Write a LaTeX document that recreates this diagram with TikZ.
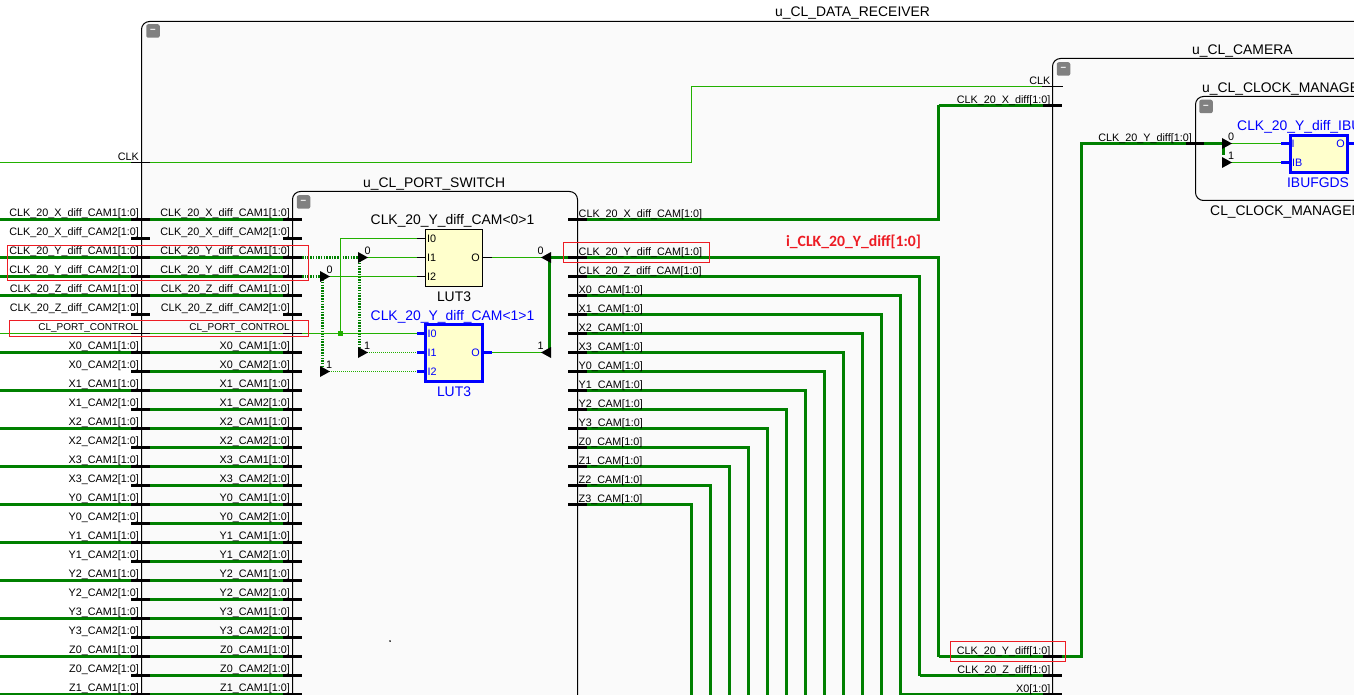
\documentclass[tikz,border=0pt]{standalone}
\usepackage{fontspec}
\setmainfont{Liberation Sans}
\newfontfamily\notefont{Carlito}
\usetikzlibrary{positioning}
\definecolor{busgreen}{HTML}{008000}
\definecolor{siggreen}{HTML}{22B000}
\definecolor{blockgrey}{HTML}{FAFAFA}
\definecolor{lutyellow}{HTML}{FFFFCC}
\definecolor{selblue}{HTML}{0000FF}
\definecolor{markred}{HTML}{ED1C24}
\tikzset{
	x=1pt,y=-1pt,
	blockbox/.style={draw=black,line width=1pt,fill=blockgrey,rounded corners=8pt},
	bus/.style={draw=busgreen,line width=3pt},
	sig/.style={draw=siggreen,line width=1pt},
	busdot/.style={draw=busgreen,line width=3pt,dash pattern=on 1.5pt off 1.2pt},
	sigdot/.style={draw=siggreen,line width=1pt,dash pattern=on 1pt off 1pt},
	stub/.style={draw=black,line width=3pt},
	thinstub/.style={draw=black,line width=1pt},
	selstub/.style={draw=selblue,line width=3pt},
	markbox/.style={draw=markred,line width=1pt},
	portlbl/.style={inner sep=0pt,anchor=base east,font=\fontsize{10.8}{12}\selectfont},
	portlblr/.style={inner sep=0pt,anchor=base west,font=\fontsize{10.8}{12}\selectfont},
	pinlbl/.style={inner sep=0pt,font=\fontsize{10.8}{12}\selectfont},
	titlelbl/.style={inner sep=0pt,anchor=base west,font=\fontsize{13.9}{16}\selectfont},
	lutlbl/.style={inner sep=0pt,font=\fontsize{13.9}{16}\selectfont},
	lutbox/.style={draw=black,line width=1pt,fill=lutyellow,minimum width=57pt,minimum height=57pt,inner sep=0pt},
	lutsel/.style={draw=selblue,line width=3pt,fill=lutyellow,minimum width=57pt,minimum height=57pt,inner sep=0pt},
	collapse/.style={fill=gray,rounded corners=2pt,minimum size=13.5pt,inner sep=0pt,text=white,font=\fontsize{10}{10}\selectfont\bfseries},
}
\newcommand{\ctlname}{{\fontsize{10}{12}\selectfont CL\_PORT\_CONTROL}}
\newcommand{\muxright}[1]{\fill[black] (#1) ++(-5,-5.5) -- ++(10,5.5) -- ++(-10,5.5) -- cycle;}
\newcommand{\muxleft}[1]{\fill[black] (#1) ++(5,-5.5) -- ++(-10,5.5) -- ++(10,5.5) -- cycle;}
\begin{document}
\begin{tikzpicture}
	\useasboundingbox (0,0) rectangle (1354,695);
	\clip (0,0) rectangle (1354,695);
	% hierarchy blocks
	\draw[blockbox] (141.5,21.5) rectangle (1420,760);
	\draw[blockbox] (292.5,191.5) rectangle (577.5,760);
	\draw[blockbox] (1052.5,58.5) rectangle (1420,760);
	\draw[blockbox] (1195.5,96.5) rectangle (1420,200.5);
	\node[titlelbl] (titleRecv) at (775,16.7) {u\_CL\_DATA\_RECEIVER};
	\node[titlelbl] (titleSwitch) at (363,187.7) {u\_CL\_PORT\_SWITCH};
	\node[titlelbl] (titleCam) at (1192,54.7) {u\_CL\_CAMERA};
	\node[titlelbl] (titleClk) at (1202,92.7) {u\_CL\_CLOCK\_MANAGER};
	\node[titlelbl] (titleClkType) at (1210,215.3) {CL\_CLOCK\_MANAGEMENT};
	\node[collapse] (btnRecv) at (153,31) {--};
	\node[collapse] (btnSwitch) at (303.5,202) {--};
	\node[collapse] (btnCam) at (1063.5,69) {--};
	\node[collapse] (btnClk) at (1206,106.5) {--};
	% input rows of the switch
	\foreach \r [evaluate=\r as \yy using 219.5+19*\r] in {0,...,25} {
		\coordinate (edge\r) at (0,\yy);
		\coordinate (oa\r) at (131,\yy);
		\coordinate (ob\r) at (150,\yy);
		\coordinate (ia\r) at (283,\yy);
		\coordinate (ib\r) at (302,\yy);
	}
	\foreach \r in {0,2,3,4,7,9,11,...,25} \draw[bus] (edge\r) -- (oa\r);
	\foreach \r in {0,2,3,4,7,8,...,25} \draw[bus] (ob\r) -- (ia\r);
	\foreach \r in {0,...,5,7,8,...,25} {
		\draw[stub] (oa\r) -- (ob\r);
		\draw[stub] (ia\r) -- (ib\r);
	}
	\draw[sig] (edge6) -- (oa6);
	\draw[sig] (ob6) -- (ia6);
	\draw[thinstub] (oa6) -- (ob6);
	\draw[thinstub] (ia6) -- (ib6);
	\foreach \nm [count=\r from 0, evaluate=\r as \yy using 216.8+19*\r] in {
		CLK\_20\_X\_diff\_CAM1[1:0],CLK\_20\_X\_diff\_CAM2[1:0],
		CLK\_20\_Y\_diff\_CAM1[1:0],CLK\_20\_Y\_diff\_CAM2[1:0],
		CLK\_20\_Z\_diff\_CAM1[1:0],CLK\_20\_Z\_diff\_CAM2[1:0],
		\ctlname,
		X0\_CAM1[1:0],X0\_CAM2[1:0],X1\_CAM1[1:0],X1\_CAM2[1:0],
		X2\_CAM1[1:0],X2\_CAM2[1:0],X3\_CAM1[1:0],X3\_CAM2[1:0],
		Y0\_CAM1[1:0],Y0\_CAM2[1:0],Y1\_CAM1[1:0],Y1\_CAM2[1:0],
		Y2\_CAM1[1:0],Y2\_CAM2[1:0],Y3\_CAM1[1:0],Y3\_CAM2[1:0],
		Z0\_CAM1[1:0],Z0\_CAM2[1:0],Z1\_CAM1[1:0]} {
		\node[portlbl] (olbl\r) at (139,\yy) {\nm};
		\node[portlbl] (ilbl\r) at (290,\yy) {\nm};
	}
	% outputs of the switch, running over to the camera
	\foreach \nm/\yy/\xx/\ye [count=\k] in {
		CLK\_20\_X\_diff\_CAM[1:0]/219.5/938.5/105.5,
		CLK\_20\_Y\_diff\_CAM[1:0]/257.5/938.5/656.5,
		CLK\_20\_Z\_diff\_CAM[1:0]/276.5/919.5/675.5,
		X0\_CAM[1:0]/295.5/900.5/694.5,
		X1\_CAM[1:0]/314.5/881.5/720,
		X2\_CAM[1:0]/333.5/862.5/720,
		X3\_CAM[1:0]/352.5/843.5/720,
		Y0\_CAM[1:0]/371.5/824.5/720,
		Y1\_CAM[1:0]/390.5/805.5/720,
		Y2\_CAM[1:0]/409.5/786.5/720,
		Y3\_CAM[1:0]/428.5/767.5/720,
		Z0\_CAM[1:0]/447.5/748.5/720,
		Z1\_CAM[1:0]/466.5/729.5/720,
		Z2\_CAM[1:0]/485.5/710.5/720,
		Z3\_CAM[1:0]/504.5/691.5/720} {
		\coordinate (sa\k) at (568,\yy);
		\coordinate (sb\k) at (587,\yy);
		\coordinate (sc\k) at (\xx,\yy);
		\coordinate (sd\k) at (\xx,\ye);
		\draw[bus] (sb\k) -- (sc\k) -- (sd\k);
		\draw[stub] (sa\k) -- (sb\k);
		\node[portlblr] (slbl\k) at (578.5,\yy-2.3) {\nm};
	}
	\foreach \k/\ye/\nm in {
		1/105.5/CLK\_20\_X\_diff[1:0],
		2/656.5/CLK\_20\_Y\_diff[1:0],
		3/675.5/CLK\_20\_Z\_diff[1:0],
		4/694.5/X0[1:0]} {
		\coordinate (ca\k) at (1043,\ye);
		\coordinate (cb\k) at (1062,\ye);
		\draw[bus] (sd\k) -- (ca\k);
		\draw[stub] (ca\k) -- (cb\k);
		\node[portlbl] (clbl\k) at (1050.5,\ye-2.2) {\nm};
	}
	% clock net
	\coordinate (clkIn) at (0,162.5);
	\coordinate (clkA) at (131,162.5);
	\coordinate (clkB) at (150,162.5);
	\coordinate (clkC) at (691.5,162.5);
	\coordinate (clkD) at (691.5,86.5);
	\coordinate (clkE) at (1042,86.5);
	\coordinate (clkF) at (1063,86.5);
	\draw[sig] (clkIn) -- (clkA);
	\draw[sig] (clkB) -- (clkC) -- (clkD) -- (clkE);
	\draw[thinstub] (clkA) -- (clkB);
	\draw[thinstub] (clkE) -- (clkF);
	\node[portlbl] (clkLblA) at (139,160.5) {CLK};
	\node[portlbl] (clkLblB) at (1050.5,84.5) {CLK};
	% the two LUTs
	\node[lutbox] (lutA) at (454,258) {};
	\node[lutsel] (lutB) at (454,353) {};
	\node[lutlbl,above=1.5pt of lutA,xshift=-1.5pt] (lutAname) {CLK\_20\_Y\_diff\_CAM<0>1};
	\node[lutlbl,below=4.5pt of lutA] (lutAtype) {LUT3};
	\node[lutlbl,text=selblue,above=0pt of lutB,xshift=-1.5pt] (lutBname) {CLK\_20\_Y\_diff\_CAM<1>1};
	\node[lutlbl,text=selblue,below=4pt of lutB] (lutBtype) {LUT3};
	\foreach \p/\yy in {0/238.5,1/257.5,2/276.5} {
		\coordinate (pa\p) at (417,\yy);
		\coordinate (pb\p) at (426,\yy);
		\draw[thinstub] (pa\p) -- (pb\p);
		\node[pinlbl,anchor=west] (pinA\p) at (427,\yy) {I\p};
	}
	\foreach \p/\yy in {0/333.5,1/352.5,2/371.5} {
		\coordinate (qa\p) at (417,\yy);
		\coordinate (qb\p) at (427,\yy);
		\draw[selstub] (qa\p) -- (qb\p);
		\node[pinlbl,anchor=west,text=selblue] (pinB\p) at (427.5,\yy) {I\p};
	}
	\node[pinlbl] (pinAo) at (475.5,257.5) {O};
	\node[pinlbl,text=selblue] (pinBo) at (475.5,352.5) {O};
	\coordinate (oaA) at (483,257.5);
	\coordinate (obA) at (492,257.5);
	\coordinate (oaB) at (483,352.5);
	\coordinate (obB) at (492,352.5);
	\draw[thinstub] (oaA) -- (obA);
	\draw[selstub] (oaB) -- (obB);
	% input selectors
	\coordinate (muxA) at (363,257.5);
	\coordinate (muxB) at (325,276.5);
	\coordinate (muxC) at (363,352.5);
	\coordinate (muxD) at (325,371.5);
	\coordinate (barAtop) at (359.5,257.5);
	\coordinate (barAlow) at (359.5,352.5);
	\coordinate (barBtop) at (322,276.5);
	\coordinate (barBlow) at (322,371.5);
	\coordinate (juncCtl) at (340.5,333.5);
	\coordinate (juncTop) at (340.5,238.5);
	\draw[busdot] (ib2) -- (muxA);
	\draw[busdot] (ib3) -- (muxB);
	\draw[busdot] (barAtop) -- (barAlow);
	\draw[busdot] (barBtop) -- (barBlow);
	\draw[sig] (muxA) -- (pa1);
	\draw[sig] (muxB) -- (pa2);
	\draw[sigdot] (muxC) -- (qa1);
	\draw[sigdot] (muxD) -- (qa2);
	\draw[sig] (ib6) -- (qa0);
	\draw[sig] (juncCtl) -- (juncTop) -- (pa0);
	\fill[siggreen] (juncCtl) ++(-2.5,-2.5) rectangle ++(5,5);
	\muxright{muxA}
	\muxright{muxB}
	\muxright{muxC}
	\muxright{muxD}
	\node[pinlbl] (muxAlbl) at (367.5,251) {0};
	\node[pinlbl] (muxBlbl) at (329.5,270) {0};
	\node[pinlbl] (muxClbl) at (367,346) {1};
	\node[pinlbl] (muxDlbl) at (329,365) {1};
	% output merge
	\coordinate (mergeA) at (546,257.5);
	\coordinate (mergeB) at (546,352.5);
	\coordinate (mergeTop) at (549.5,256);
	\coordinate (mergeLow) at (549.5,355);
	\coordinate (mergeOut) at (548,257.5);
	\draw[sig] (obA) -- (mergeA);
	\draw[sig] (obB) -- (mergeB);
	\draw[bus] (mergeTop) -- (mergeLow);
	\draw[bus] (mergeOut) -- (sa2);
	\muxleft{mergeA}
	\muxleft{mergeB}
	\node[pinlbl] (mergeAlbl) at (540.5,251) {0};
	\node[pinlbl] (mergeBlbl) at (540.5,346) {1};
	% camera clock input
	\coordinate (riseA) at (1081.5,656.5);
	\coordinate (riseB) at (1081.5,143.5);
	\coordinate (bufA) at (1186,143.5);
	\coordinate (bufB) at (1204,143.5);
	\coordinate (bufC) at (1223.5,143.5);
	\coordinate (bufD) at (1223.5,155);
	\coordinate (muxE) at (1227,143.5);
	\coordinate (muxF) at (1227,162.5);
	\draw[bus] (cb2) -- (riseA) -- (riseB) -- (bufA);
	\draw[stub] (bufA) -- (bufB);
	\draw[bus] (bufB) -- (bufC);
	\draw[bus] (bufC) -- (bufD);
	\node[portlbl] (bufLbl) at (1192,141.3) {CLK\_20\_Y\_diff[1:0]};
	% the input buffer
	\node[lutsel,minimum width=56.5pt,minimum height=37pt] (ibuf) at (1319,154) {};
	\node[titlelbl,text=selblue] (ibufName) at (1237,130.7) {CLK\_20\_Y\_diff\_IBUFGDS};
	\node[lutlbl,text=selblue] (ibufType) at (1318,182.5) {IBUFGDS};
	\coordinate (ipA) at (1281,143.5);
	\coordinate (ipB) at (1291,143.5);
	\coordinate (ipC) at (1281,162.5);
	\coordinate (ipD) at (1291,162.5);
	\coordinate (ipO) at (1348,143.5);
	\coordinate (ipP) at (1358,143.5);
	\draw[sig] (muxE) -- (ipA);
	\draw[sig] (muxF) -- (ipC);
	\draw[selstub] (ipA) -- (ipB);
	\draw[selstub] (ipC) -- (ipD);
	\draw[selstub] (ipO) -- (ipP);
	\node[pinlbl,anchor=west,text=selblue] (ibufI) at (1291.5,143.5) {I};
	\node[pinlbl,anchor=west,text=selblue] (ibufIB) at (1292,162.5) {IB};
	\node[pinlbl,text=selblue] (ibufO) at (1340.5,143.5) {O};
	\muxright{muxE}
	\muxright{muxF}
	\node[pinlbl] (muxElbl) at (1231,137) {0};
	\node[pinlbl] (muxFlbl) at (1231,156) {1};
	% red marks
	\draw[markbox] (7,245.5) rectangle (308.5,280.5);
	\draw[markbox] (9.5,320.5) rectangle (308.5,336.5);
	\draw[markbox] (563.5,242.5) rectangle (709.5,262.5);
	\draw[markbox] (950.5,641.5) rectangle (1065.5,661.5);
	\node[inner sep=0pt,text=markred,font=\notefont\fontsize{15.7}{18}\selectfont\bfseries] (lblNet) at (853.5,242) {i\_CLK\_20\_Y\_diff[1:0]};
	\node[fill,circle,inner sep=0.7pt] (specDot) at (390,641) {};
\end{tikzpicture}
\end{document}
